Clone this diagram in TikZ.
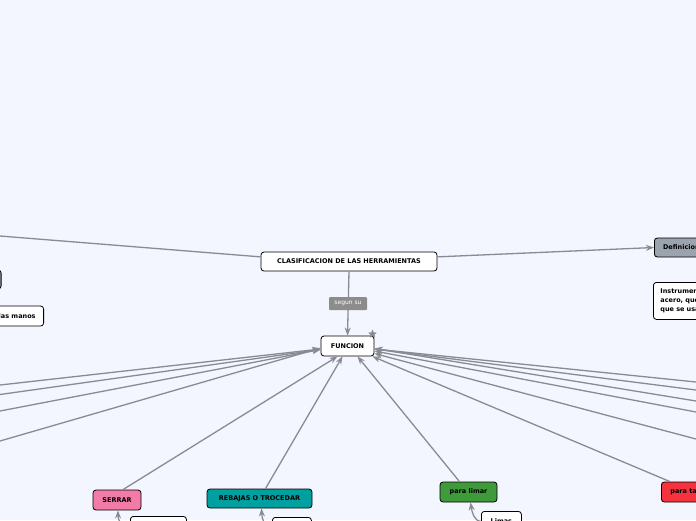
\documentclass[tikz,border=0pt]{standalone}
\usepackage{fontspec}
\setmainfont{DejaVu Sans}
\usetikzlibrary{arrows.meta,shapes.geometric,calc}
\definecolor{bg}{RGB}{243,246,254}
\definecolor{edge}{RGB}{138,138,146}
\definecolor{lbl}{RGB}{140,140,140}
\definecolor{slate}{RGB}{154,163,174}
\definecolor{pinkc}{RGB}{242,123,168}
\definecolor{tealc}{RGB}{0,160,160}
\definecolor{greenc}{RGB}{62,154,58}
\definecolor{redc}{RGB}{245,50,62}
\tikzset{
  topic/.style={draw=black, line width=0.8pt, rounded corners=3pt, fill=white,
    font=\fontsize{6.5}{8}\selectfont\bfseries, inner sep=0pt, minimum height=19pt},
  conn/.style={draw=edge, line width=1.3pt, -{Stealth[length=8pt,width=6pt]}},
  plainline/.style={draw=edge, line width=1.3pt},
}
\begin{document}
\begin{tikzpicture}[x=1pt,y=-1pt]
\useasboundingbox (0,0) rectangle (696,520);
\fill[bg] (0,0) rectangle (696,520);
\clip (0,0) rectangle (696,520);

% main nodes
\node[topic, minimum width=176pt] (root) at (349,261.5) {CLASIFICACION DE LAS HERRAMIENTAS};
\node[topic, minimum width=53pt, minimum height=20pt] (func) at (347.5,346) {FUNCION};
\node[topic, fill=slate, minimum width=54pt, anchor=west] (def) at (654,247.5) {Definicion};
\node[topic, anchor=north west, align=left, minimum height=37pt, text width=90pt,
  inner xsep=7pt, font=\fontsize{6.5}{9}\selectfont\bfseries] (ins) at (653,282)
  {Instrumentos de\\acero, que\\que se usan};
\node[topic, fill=slate, minimum width=60pt, anchor=east] (lp) at (1.5,279.5) {};
\node[topic, anchor=east, minimum height=20pt, inner xsep=8pt] (manos) at (44,316) {con las manos};

% function children
\node[topic, fill=pinkc, minimum width=48pt, minimum height=20pt] (serrar) at (117,500) {SERRAR};
\node[topic, fill=tealc, minimum width=105pt] (rebajas) at (259.5,498.5) {REBAJAS O TROCEDAR};
\node[topic, fill=greenc, minimum width=57pt, minimum height=20pt] (limar) at (468.5,492) {para limar};
\node[topic, fill=redc, minimum height=20pt, inner xsep=9pt, anchor=west] (tallar) at (661,492) {para taladrar};

% grandchildren (partially visible)
\node[topic, anchor=north west, minimum width=56pt, minimum height=20pt] (sc) at (130,516) {};
\node[topic, anchor=north west, minimum width=39pt, minimum height=20pt] (rc) at (272,517) {};
\node[topic, anchor=north west, minimum width=40pt, minimum height=20pt] (lc) at (481,511) {Limas};

% off-canvas ends
\coordinate (root-left) at (0,236);
\coordinate (L1) at (0,385);
\coordinate (L2) at (0,394.5);
\coordinate (L3) at (0,411);
\coordinate (L4) at (0,441);
\coordinate (R1) at (696,382);
\coordinate (R2) at (696,390);
\coordinate (R3) at (696,401);
\coordinate (R4) at (696,412);
\coordinate (R5) at (696,439);

% connectors
\draw[plainline] (root.177) -- (root-left);
\draw[conn] (root.3) -- (def.west);
\draw[conn] (root.south) -- (func.north);

\draw[conn] (L1) -- ($(func.west)+(0,3)$);
\draw[conn] (L2) -- ($(func.west)+(0,3.5)$);
\draw[conn] (L3) -- ($(func.west)+(0,3.5)$);
\draw[conn] (L4) -- ($(func.west)+(0,2)$);

\draw[conn] (R1) -- ($(func.east)+(0,3)$);
\draw[conn] (R2) -- ($(func.east)+(0,3)$);
\draw[conn] (R3) -- ($(func.east)+(0,2.5)$);
\draw[conn] (R4) -- ($(func.east)+(0,5)$);
\draw[conn] (R5) -- ($(func.east)+(0,7.5)$);
\draw[conn] ($(tallar.north west)+(9,0)$) -- ($(func.south east)+(-2,0)$);

\draw[conn] ($(serrar.north)+(6,0)$) -- ($(func.south)+(-10,0)$);
\draw[conn] ($(rebajas.north)+(6,0)$) -- ($(func.south)+(-5,0)$);
\draw[conn] ($(limar.north)+(-9,0)$) -- ($(func.south)+(10,0)$);

\draw[conn] (sc.west) .. controls (120,526) and (118,520) .. ($(serrar.south)+(1,0)$);
\draw[conn] (rc.west) .. controls (264,527) and (262,519) .. ($(rebajas.south)+(2,0)$);
\draw[conn] (lc.west) .. controls (474,521) and (472,512) .. ($(limar.south)+(2,0)$);

% label on the root connector
\node[fill=lbl, rounded corners=1pt, text=white, font=\fontsize{6}{7}\selectfont,
  minimum width=38pt, minimum height=13pt, inner sep=0pt] (seg) at (348,303.5) {segun su};

% star marker
\node[star, star points=5, star point ratio=2.2, fill=edge, minimum size=9pt, inner sep=0pt] (st) at (372.5,334) {};
\end{tikzpicture}
\end{document}
